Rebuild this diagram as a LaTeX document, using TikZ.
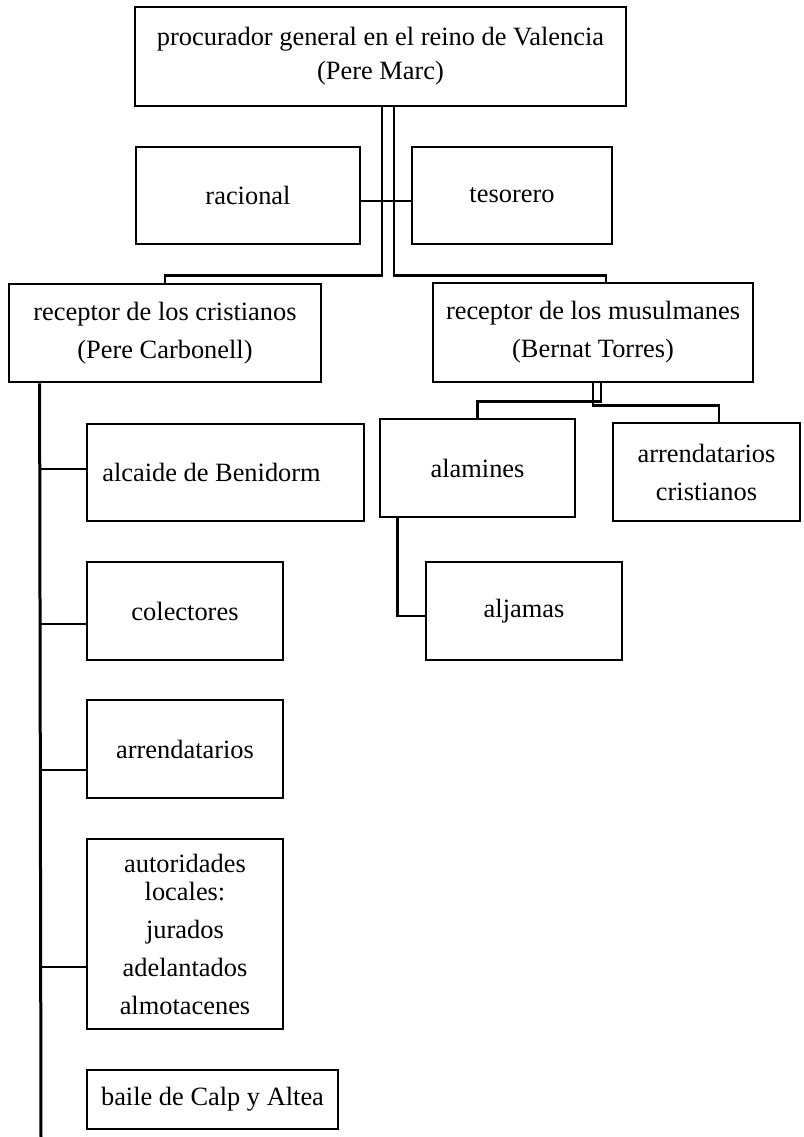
\documentclass[tikz,border=0pt]{standalone}
\usepackage{fontspec}
\setmainfont{Liberation Serif}
\newcommand\orgfont{\fontsize{26.4}{38}\selectfont}

\begin{document}
\begin{tikzpicture}[x=1pt, y=-1pt,
    box/.style={draw, line width=2.8pt, align=center, inner sep=0pt, font=\orgfont},
    link/.style={line width=2.4pt}]
    \useasboundingbox (0,0) rectangle (803,1137);
    % top level
    \node[box, minimum width=491, minimum height=99, font=\fontsize{26.4}{34}\selectfont] (gen) at (380.5,56.5) {procurador general en el reino de Valencia\\(Pere Marc)};
    \node[box, minimum width=224, minimum height=97] (rac) at (248,195.5) {racional};
    \node[box, minimum width=200, minimum height=97] (tes) at (512,195.5) {tesorero};
    \node[box, minimum width=312, minimum height=98] (rcr) at (165,333) {receptor de los cristianos\\(Pere Carbonell)};
    \node[box, minimum width=320, minimum height=99] (rmu) at (593,332.5) {receptor de los musulmanes\\(Bernat Torres)};
    % musulmanes
    \node[box, minimum width=195, minimum height=98] (ala) at (477.5,468) {alamines};
    \node[box, minimum width=187, minimum height=98] (arc) at (706.5,472) {arrendatarios\\cristianos};
    \node[box, minimum width=196, minimum height=98] (alj) at (524,611) {aljamas};
    % cristianos
    \node[box, minimum width=277, minimum height=97] (alc) at (225.5,472.5) {alcaide de Benidorm\hspace*{28pt}};
    \node[box, minimum width=196, minimum height=98] (col) at (185,611) {colectores};
    \node[box, minimum width=196, minimum height=98] (arr) at (185,749) {arrendatarios};
    \node[box, minimum width=196, minimum height=190, font=\fontsize{26.4}{28}\selectfont] (aut) at (185,934) {autoridades\\locales:\\[10pt]jurados\\[10pt]adelantados\\[10pt]almotacenes};
    \node[box, minimum width=251, minimum height=59] (bai) at (212.5,1099.5) {baile de Calp y Altea};

    \draw[link] ([xshift=1.5pt]gen.south) -- ++(0,168) -| (rcr.north);
    \draw[link] ([xshift=13.5pt]gen.south) -- ++(0,168) -| ([xshift=13pt]rmu.north);
    \draw[link] ([yshift=-5.5pt]rac.east) -- ([yshift=-5.5pt]tes.west);

    \draw[link] ([xshift=8pt]rmu.south) -- ++(0,18) -| (ala.north);
    \draw[link] (rmu.south) -- ++(0,22) -| ([xshift=12.5pt]arc.north);
    \draw[link] ([xshift=19pt]ala.south west) |- ([yshift=-5pt]alj.west);

    \coordinate (spine) at ([xshift=32pt]rcr.south west);
    \coordinate (spineEnd) at (41,1137);
    \draw[line width=3pt] (spine) -- (spineEnd);
    \draw[link] ([yshift=3.5pt]alc.west -| spine) -- ([yshift=3.5pt]alc.west);
    \draw[link] ([yshift=-13pt]col.west -| spine) -- ([yshift=-13pt]col.west);
    \draw[link] ([yshift=-21pt]arr.west -| spine) -- ([yshift=-21pt]arr.west);
    \draw[link] ([yshift=-33pt]aut.west -| spine) -- ([yshift=-33pt]aut.west);
\end{tikzpicture}
\end{document}
